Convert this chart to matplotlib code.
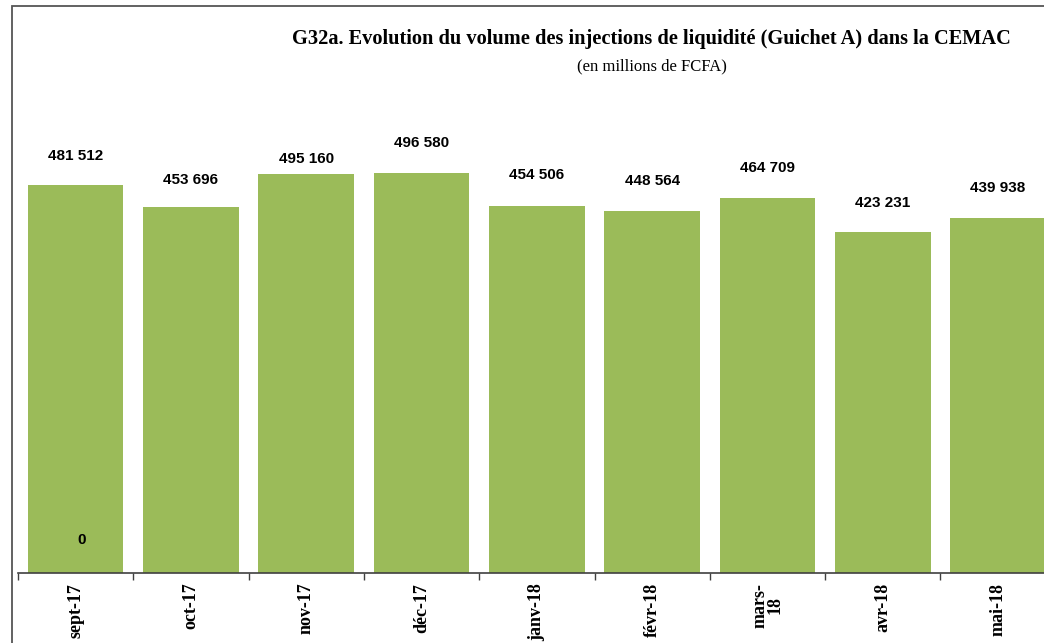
import matplotlib
matplotlib.use("Agg")
import matplotlib.pyplot as plt
from matplotlib.patches import Rectangle

# ---- data ----
categories = ["sept-17", "oct-17", "nov-17", "déc-17", "janv-18", "févr-18", "mars-\n18", "avr-18", "mai-18"]
volumes = [481512, 453696, 495160, 496580, 454506, 448564, 464709, 423231, 439938]
value_labels = ["481 512", "453 696", "495 160", "496 580", "454 506", "448 564", "464 709", "423 231", "439 938"]
zero_series = [0]
zero_labels = ["0"]

title = "G32a. Evolution du volume des injections de liquidité (Guichet A) dans la CEMAC"
subtitle = "(en millions de FCFA)"

# ---- style ----
W, H = 1044, 643
bar_color = "#9BBB59"
label_offsets_px = [29, 27, 15, 30, 31, 30, 30, 29, 30]

fig = plt.figure(figsize=(W / 100, H / 100), dpi=100)
fig.patch.set_facecolor("white")

# outer chart frame (partially cropped)
fig.add_artist(Rectangle((12 / W, -0.1), 1.2, (H - 6) / H + 0.1, transform=fig.transFigure,
                         fill=False, edgecolor="#555555", linewidth=1.3, clip_on=False))

ax_left = 18 / W
ax_bottom = (H - 573) / H
ax_height = 473 / H
ax_width = 9 * 115.3 / W
ax = fig.add_axes([ax_left, ax_bottom, ax_width, ax_height])

x = list(range(len(categories)))
ax.bar(x, volumes, width=0.83, color=bar_color, zorder=2)
ax.set_xlim(-0.5, len(categories) - 0.5)
ax.set_ylim(0, 473 * 1240)

for xi, v, lab, off in zip(x, volumes, value_labels, label_offsets_px):
    ax.annotate(lab, (xi, v), xytext=(0, off), textcoords="offset pixels",
                ha="center", va="center", fontsize=11, fontweight="bold",
                family="Liberation Sans", color="black")
for xi, v, lab in zip(x, zero_series, zero_labels):
    ax.annotate(lab, (xi, v), xytext=(6, 33), textcoords="offset pixels",
                ha="center", va="center", fontsize=11, fontweight="bold",
                family="Liberation Sans", color="black")

for side in ["top", "right", "left"]:
    ax.spines[side].set_visible(False)
ax.spines["bottom"].set_color("#404040")
ax.spines["bottom"].set_linewidth(1.2)
ax.set_yticks([])

ax.set_xticks(x)
ax.set_xticklabels(categories, rotation=90, fontsize=13, fontweight="bold",
                   family="Liberation Serif", va="top", ha="center", linespacing=0.85)
ax.tick_params(axis="x", which="major", length=0, pad=7)
ax.set_xticks([i - 0.5 for i in range(len(categories) + 1)], minor=True)
ax.tick_params(axis="x", which="minor", length=5, width=1, color="#404040", direction="out")

fig.text(651 / W, 1 - 39 / H, title, ha="center", va="center", fontsize=14.7,
         fontweight="bold", family="Liberation Serif")
fig.text(652 / W, 1 - 66 / H, subtitle, ha="center", va="center", fontsize=12,
         family="Liberation Serif")

fig.savefig("out.png", dpi=100, facecolor="white")
